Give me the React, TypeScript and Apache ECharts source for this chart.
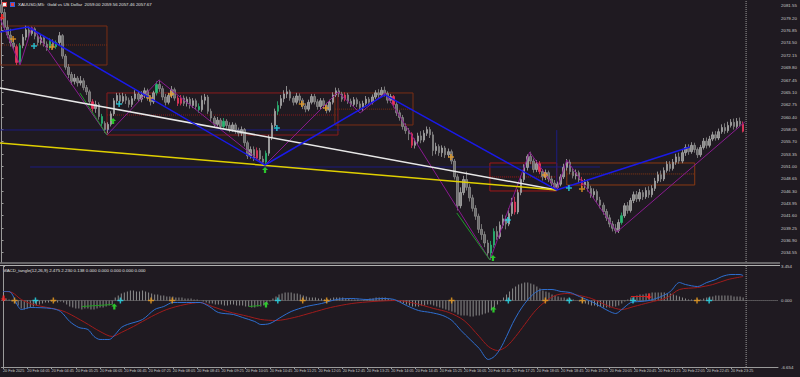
import React, { useEffect, useRef } from "react";
import * as echarts from "echarts";

const timeLabels = ["20 Feb 2025","20 Feb 04:05","20 Feb 04:45","20 Feb 05:25","20 Feb 06:05","20 Feb 06:45","20 Feb 07:25","20 Feb 08:05","20 Feb 08:45","20 Feb 09:25","20 Feb 10:05","20 Feb 10:45","20 Feb 11:25","20 Feb 12:05","20 Feb 12:45","20 Feb 13:25","20 Feb 14:05","20 Feb 14:45","20 Feb 15:25","20 Feb 16:05","20 Feb 16:45","20 Feb 17:25","20 Feb 18:05","20 Feb 18:45","20 Feb 19:25","20 Feb 20:05","20 Feb 20:45","20 Feb 21:25","20 Feb 22:05","20 Feb 22:45","20 Feb 23:25"];
const priceTicks = [2034.55,2036.90,2039.25,2041.60,2043.95,2046.30,2048.65,2051.00,2053.35,2055.70,2058.05,2060.40,2062.75,2065.10,2067.45,2069.80,2072.15,2074.50,2076.85,2079.20,2081.55];
const macdTicks = [3.454, 0, -6.654];

// [open, close, low, high]
const candles = [
[2081.8,2080.3,2079.8,2082.5],[2080.3,2077.5,2077.0,2081.0],[2077.5,2076.0,2075.4,2078.8],[2076.0,2074.5,2073.8,2077.2],[2074.5,2073.8,2073.2,2075.3],
[2073.8,2070.8,2070.3,2074.2],[2070.8,2074.0,2070.4,2074.5],[2074.0,2075.6,2073.5,2076.2],[2075.6,2077.0,2075.0,2077.8],[2077.0,2076.3,2075.5,2077.6],
[2076.3,2077.2,2075.9,2077.6],[2077.2,2075.8,2075.2,2077.5],[2075.8,2074.6,2074.0,2076.3],[2074.6,2075.5,2074.2,2076.0],[2075.5,2074.3,2073.8,2075.9],
[2074.3,2073.6,2073.0,2074.8],[2073.6,2074.8,2073.2,2075.4],[2074.8,2073.8,2073.3,2075.2],[2073.8,2074.6,2073.4,2075.0],[2074.6,2075.9,2074.0,2076.6],
[2075.9,2072.0,2071.5,2076.2],[2072.0,2069.9,2069.4,2072.4],[2069.9,2068.5,2067.8,2070.5],[2068.5,2067.2,2066.5,2069.0],[2067.2,2067.8,2066.6,2068.6],
[2067.8,2066.9,2066.2,2068.2],[2066.9,2067.3,2066.4,2068.2],[2067.3,2066.0,2065.5,2067.8],[2066.0,2065.2,2064.6,2066.5],[2065.2,2063.3,2062.8,2065.6],
[2063.3,2062.0,2061.4,2063.8],[2062.0,2062.8,2061.2,2063.5],[2062.8,2060.5,2059.9,2063.2],[2060.5,2059.2,2058.5,2061.0],[2059.2,2058.0,2057.4,2059.6],
[2058.0,2059.0,2057.3,2059.4],[2059.0,2061.0,2058.6,2061.5],[2061.0,2063.5,2060.6,2064.0],[2063.5,2064.5,2062.9,2065.0],[2064.5,2063.4,2062.8,2065.0],
[2063.4,2064.3,2063.0,2065.0],[2064.3,2063.6,2062.9,2064.8],[2063.6,2062.8,2062.2,2064.1],[2062.8,2063.9,2062.3,2064.4],[2063.9,2064.8,2063.5,2065.5],
[2064.8,2063.8,2063.3,2065.2],[2063.8,2064.6,2063.2,2065.3],[2064.6,2065.4,2064.0,2066.0],[2065.4,2064.0,2063.5,2065.8],[2064.0,2063.3,2062.6,2064.5],
[2063.3,2065.0,2062.9,2065.4],[2065.0,2066.6,2064.5,2067.2],[2066.6,2065.8,2065.2,2067.5],[2065.8,2064.2,2063.6,2066.3],[2064.2,2063.2,2062.6,2064.8],
[2063.2,2064.5,2062.8,2065.0],[2064.5,2065.6,2064.0,2066.3],[2065.6,2064.0,2063.5,2066.0],[2064.0,2063.0,2062.5,2064.5],[2063.0,2064.0,2062.6,2064.6],
[2064.0,2063.0,2062.5,2064.5],[2063.0,2063.8,2062.4,2064.3],[2063.8,2062.6,2062.0,2064.2],[2062.6,2063.5,2062.1,2064.0],[2063.5,2062.4,2061.8,2063.9],
[2062.4,2061.8,2061.2,2063.0],[2061.8,2063.6,2061.4,2064.5],[2063.6,2064.2,2062.8,2064.8],[2064.2,2061.5,2061.0,2064.6],[2061.5,2060.2,2059.6,2062.0],
[2060.2,2059.0,2058.5,2060.6],[2059.0,2059.8,2058.6,2060.4],[2059.8,2058.6,2058.0,2060.2],[2058.6,2059.6,2058.2,2060.2],[2059.6,2058.8,2058.2,2060.0],
[2058.8,2058.0,2057.5,2059.4],[2058.0,2058.9,2057.6,2059.4],[2058.9,2057.9,2057.2,2059.3],[2057.9,2057.3,2056.7,2058.4],[2057.3,2058.0,2056.8,2058.6],
[2058.0,2055.5,2054.8,2058.3],[2055.5,2053.0,2052.4,2055.9],[2053.0,2054.2,2052.5,2054.8],[2054.2,2052.6,2052.0,2054.8],[2052.6,2054.0,2052.1,2054.6],
[2054.0,2052.4,2051.8,2054.5],[2052.4,2051.8,2051.2,2053.0],[2051.8,2053.5,2051.3,2054.0],[2053.5,2056.5,2053.0,2057.0],[2056.5,2058.8,2056.0,2059.3],
[2058.8,2061.5,2058.5,2062.0],[2061.5,2062.6,2060.8,2063.4],[2062.6,2063.9,2062.0,2064.6],[2063.9,2064.8,2063.2,2065.5],[2064.8,2065.2,2064.0,2066.3],
[2065.2,2064.0,2063.5,2065.6],[2064.0,2063.2,2062.6,2064.4],[2063.2,2064.4,2062.8,2065.0],[2064.4,2063.6,2063.0,2064.9],[2063.6,2062.5,2061.9,2064.0],
[2062.5,2061.9,2061.3,2063.0],[2061.9,2063.2,2061.5,2063.7],[2063.2,2064.3,2062.8,2064.8],[2064.3,2063.3,2062.8,2064.8],[2063.3,2062.4,2061.8,2063.8],
[2062.4,2063.5,2061.9,2064.0],[2063.5,2062.6,2062.0,2064.0],[2062.6,2061.7,2061.1,2063.1],[2061.7,2063.2,2061.3,2063.7],[2063.2,2064.6,2062.8,2065.1],
[2064.6,2065.4,2064.2,2066.0],[2065.4,2064.8,2064.2,2065.9],[2064.8,2063.8,2063.3,2065.2],[2063.8,2064.6,2063.4,2065.1],[2064.6,2063.4,2062.9,2065.0],
[2063.4,2062.8,2062.3,2063.9],[2062.8,2063.7,2062.4,2064.2],[2063.7,2062.9,2062.3,2064.1],[2062.9,2062.2,2061.7,2063.4],[2062.2,2063.0,2061.5,2063.5],
[2063.0,2063.8,2062.6,2064.4],[2063.8,2063.2,2062.7,2064.2],[2063.2,2064.2,2062.8,2064.7],[2064.2,2065.0,2063.8,2065.5],[2065.0,2064.6,2064.0,2065.7],
[2064.6,2065.5,2064.2,2066.1],[2065.5,2064.9,2064.3,2066.2],[2064.9,2063.6,2063.0,2065.3],[2063.6,2064.3,2063.1,2064.8],[2064.3,2062.8,2062.2,2064.6],
[2062.8,2061.2,2060.6,2063.2],[2061.2,2060.3,2059.7,2061.7],[2060.3,2058.6,2058.0,2060.8],[2058.6,2057.8,2057.2,2059.2],[2057.8,2057.2,2056.0,2058.3],
[2057.2,2055.0,2054.5,2057.5],[2055.0,2055.8,2054.4,2056.3],[2055.8,2056.8,2055.3,2057.4],[2056.8,2056.0,2055.4,2057.7],[2056.0,2057.3,2055.6,2057.9],
[2057.3,2058.0,2056.8,2058.6],[2058.0,2057.0,2056.4,2058.5],[2057.0,2054.0,2053.0,2057.6],[2054.0,2054.8,2053.3,2055.5],[2054.8,2053.6,2053.0,2055.2],
[2053.6,2054.5,2052.8,2055.0],[2054.5,2053.2,2052.6,2054.9],[2053.2,2053.8,2052.7,2054.4],[2053.8,2052.0,2051.4,2054.2],[2052.0,2049.0,2048.5,2052.4],
[2049.0,2043.5,2042.6,2049.5],[2043.5,2046.0,2043.0,2047.0],[2046.0,2048.5,2045.5,2049.2],[2048.5,2047.0,2046.4,2050.0],[2047.0,2045.0,2044.3,2047.6],
[2045.0,2043.0,2042.4,2045.6],[2043.0,2041.5,2040.8,2043.6],[2041.5,2039.0,2038.3,2042.0],[2039.0,2038.0,2037.0,2040.0],[2038.0,2036.4,2035.6,2038.6],
[2036.4,2034.5,2033.8,2037.0],[2034.5,2036.0,2033.2,2036.8],[2036.0,2038.6,2035.5,2039.2],[2038.6,2037.6,2037.0,2039.6],[2037.6,2039.8,2037.2,2040.5],
[2039.8,2041.0,2039.2,2041.8],[2041.0,2040.0,2039.0,2041.6],[2040.0,2042.0,2039.6,2043.0],[2042.0,2044.2,2041.5,2045.0],[2044.2,2042.3,2041.8,2045.2],
[2042.3,2046.0,2041.9,2046.6],[2046.0,2048.5,2045.5,2049.2],[2048.5,2050.8,2048.0,2051.4],[2050.8,2052.9,2050.2,2053.3],[2052.9,2052.0,2051.4,2053.8],
[2052.0,2050.4,2049.8,2052.5],[2050.4,2051.5,2049.9,2052.2],[2051.5,2050.0,2049.5,2052.0],[2050.0,2049.0,2048.3,2050.5],[2049.0,2049.8,2048.4,2050.4],
[2049.8,2048.6,2048.0,2050.2],[2048.6,2047.8,2047.2,2049.2],[2047.8,2047.0,2046.5,2048.4],[2047.0,2047.6,2046.5,2048.1],[2047.6,2049.0,2047.2,2049.5],
[2049.0,2050.8,2048.6,2051.5],[2050.8,2051.8,2050.2,2052.4],[2051.8,2050.0,2049.5,2052.3],[2050.0,2049.2,2048.7,2050.6],[2049.2,2049.8,2048.5,2050.4],
[2049.8,2048.4,2047.8,2050.2],[2048.4,2047.5,2046.9,2049.0],[2047.5,2048.0,2046.8,2048.6],[2048.0,2046.8,2046.2,2048.5],[2046.8,2045.6,2045.0,2047.3],
[2045.6,2046.2,2045.0,2046.8],[2046.2,2044.6,2044.0,2046.6],[2044.6,2043.6,2043.0,2045.2],[2043.6,2042.4,2041.8,2044.1],[2042.4,2041.2,2040.6,2042.9],
[2041.2,2040.0,2039.4,2041.8],[2040.0,2039.2,2038.6,2040.6],[2039.2,2038.8,2038.2,2040.0],[2038.8,2040.3,2038.3,2040.9],[2040.3,2041.6,2039.9,2042.2],
[2041.6,2043.5,2041.2,2044.0],[2043.5,2042.6,2042.0,2044.2],[2042.6,2044.5,2042.2,2045.0],[2044.5,2045.6,2044.0,2046.2],[2045.6,2044.8,2044.2,2046.3],
[2044.8,2046.0,2044.3,2046.7],[2046.0,2045.2,2044.6,2046.5],[2045.2,2046.4,2044.8,2047.0],[2046.4,2045.6,2045.0,2047.2],[2045.6,2046.8,2045.1,2047.4],
[2046.8,2048.2,2046.3,2048.8],[2048.2,2049.4,2047.8,2050.0],[2049.4,2048.6,2048.0,2050.2],[2048.6,2050.2,2048.2,2050.8],[2050.2,2051.4,2049.8,2052.0],
[2051.4,2050.6,2050.0,2052.0],[2050.6,2051.8,2050.2,2052.4],[2051.8,2052.8,2051.3,2053.4],[2052.8,2052.0,2051.5,2053.6],[2052.0,2053.6,2051.6,2054.2],
[2053.6,2054.6,2053.0,2055.2],[2054.6,2053.8,2053.2,2055.2],[2053.8,2055.0,2053.4,2055.6],[2055.0,2054.2,2053.6,2055.5],[2054.2,2053.2,2052.6,2054.6],
[2053.2,2054.6,2052.8,2055.1],[2054.6,2055.8,2054.2,2056.4],[2055.8,2055.0,2054.4,2056.5],[2055.0,2056.2,2054.6,2056.8],[2056.2,2057.0,2055.8,2057.6],
[2057.0,2056.4,2055.9,2057.7],[2056.4,2057.6,2056.0,2058.2],[2057.6,2058.4,2057.2,2059.0],[2058.4,2057.8,2057.2,2059.2],[2057.8,2058.8,2057.4,2059.5],
[2058.8,2059.4,2058.4,2060.0],[2059.4,2058.6,2058.0,2060.1],[2058.6,2059.6,2058.2,2060.2],[2059.6,2059.0,2058.6,2060.3],[2059.00,2057.67,2057.46,2059.56]
];
const redBars = [5,30,58,59,84,113,129,135,169,177,191,244];
const greenBars = [6,16,18,33,51,65,73,87,91,161,162,204];

const histogram = [
0.3,0.2,0.1,-0.1,-0.3,
-0.5,-0.8,-0.9,-0.8,-0.7,-0.6,-0.5,-0.4,
-0.3,-0.2,-0.2,-0.1,-0.1,-0.2,-0.1,-0.2,
-0.4,-0.6,-0.7,-0.8,-0.8,-0.9,-0.8,-0.8,-0.9,-0.9,-0.8,-0.7,-0.7,-0.6,-0.5,-0.4,
0.3,0.5,0.7,0.8,0.9,1.0,1.0,0.9,0.9,1.0,0.9,0.8,0.7,0.6,0.6,0.5,
0.5,0.4,0.4,0.4,0.3,0.3,0.3,0.2,0.2,0.2,0.1,0.1,0.0,
-0.1,-0.2,-0.3,-0.3,-0.4,-0.4,-0.4,-0.5,-0.5,-0.4,-0.4,-0.5,-0.5,-0.5,-0.6,-0.6,-0.7,-0.7,-0.6,-0.6,
-0.5,-0.3,-0.1,0.2,0.4,0.6,0.7,0.8,0.8,0.8,
0.7,0.7,0.6,0.5,0.4,0.3,0.3,0.3,0.2,0.2,0.1,0.1,0.2,0.3,0.3,
0.3,0.3,0.2,0.2,0.1,0.1,0.1,0.0,0.1,0.1,0.2,0.2,0.3,0.3,0.3,0.3,0.2,0.1,0.0,-0.1,
-0.2,-0.3,-0.4,-0.5,-0.6,-0.6,-0.6,-0.5,-0.5,-0.4,-0.4,-0.5,-0.6,-0.7,-0.8,
-0.9,-1.0,-1.1,-1.2,-1.4,-1.5,-1.5,-1.5,-1.6,-1.6,-1.5,-1.5,-1.4,-1.3,-1.2,-1.0,
-0.7,-0.4,-0.1,0.3,0.6,0.9,1.2,1.4,1.6,1.7,1.8,1.8,1.7,1.6,1.4,1.2,1.0,0.9,0.8,
0.6,0.5,0.4,0.3,0.3,0.2,0.2,0.1,0.0,-0.1,
-0.2,-0.3,-0.4,-0.5,-0.5,-0.6,-0.6,-0.7,-0.7,-0.7,-0.6,-0.6,-0.5,-0.3,-0.1,
0.1,0.3,0.4,0.5,0.6,0.6,0.7,0.7,0.8,0.8,0.8,0.8,0.8,0.7,0.7,0.6,0.5,0.4,0.3,
0.2,0.1,0.1,0.0,0.1,0.1,0.2,0.3,
0.4,0.4,0.5,0.5,0.5,0.5,0.5,0.5,0.4,0.4,0.4,0.3
];

const macdMain = [[0,0.9],[2,0.9],[5,-0.6],[6,-0.9],[9,-0.7],[16,-0.8],[19,-1.1],[22,-2.1],[25,-2.7],[28,-2.9],[30,-3.6],[32,-3.9],[35,-3.9],[37,-3.4],[39,-2.7],[41,-2.4],[46,-1.9],[50,-0.9],[53,-0.6],[56,-0.2],[59,-0.2],[65,-0.2],[68,-0.6],[71,-1.2],[76,-1.4],[79,-1.7],[83,-2.1],[85,-2.4],[88,-2.3],[92,-1.6],[95,-1.1],[100,-0.6],[105,-0.3],[110,0.1],[115,0.2],[120,0.1],[125,0.2],[129,0.1],[133,-0.5],[137,-1.0],[141,-1.2],[145,-1.5],[148,-2.0],[151,-3.0],[154,-3.9],[157,-4.8],[160,-5.9],[162,-5.6],[164,-4.8],[166,-3.6],[168,-2.3],[170,-1.2],[172,-0.3],[174,0.4],[176,0.9],[178,1.1],[181,1.1],[184,0.9],[187,0.8],[190,0.4],[194,-0.1],[197,-0.6],[200,-1.1],[202,-1.3],[204,-0.9],[207,-0.2],[210,-0.1],[213,0.0],[217,0.4],[220,0.9],[223,1.8],[225,1.6],[229,1.4],[232,1.8],[235,2.1],[237,2.4],[240,2.6],[243,2.6],[244,2.5]];
const macdSignal = [[0,0.9],[3,0.8],[6,0.1],[10,-0.4],[18,-0.9],[21,-1.2],[27,-2.2],[32,-3.1],[36,-3.6],[39,-3.2],[43,-2.6],[49,-1.6],[54,-0.9],[60,-0.4],[65,-0.2],[69,-0.6],[74,-1.1],[81,-1.6],[85,-1.9],[90,-2.0],[96,-1.7],[102,-1.2],[108,-0.7],[115,-0.3],[122,-0.1],[130,0.0],[136,-0.3],[142,-0.8],[147,-1.2],[152,-2.0],[157,-3.6],[160,-4.6],[163,-5.0],[166,-4.6],[169,-3.6],[172,-2.4],[175,-1.2],[178,-0.3],[182,0.5],[186,0.7],[190,0.5],[194,0.2],[200,-0.6],[204,-0.9],[208,-0.6],[213,-0.2],[219,0.3],[223,1.1],[229,1.3],[234,1.6],[239,2.1],[244,2.4]];

// overlay objects in (bar index, price)
const blueTrend = [[-0.5,2076.6],[8.7,2077.55],[86.7,2051.26],[126.2,2064.6],[182.7,2046.5],[226.5,2054.7]];
const whiteTrend = [[-0.5,2065.93],[182.7,2046.5]];
const yellowTrend = [[-0.5,2055.45],[182.7,2046.5]];
const zigzag = [[-0.5,2079.26],[6.1,2070.3],[10,2077.55],[34.7,2056.97],[51.8,2067.45],[86.7,2051.26],[110.7,2065.17],[118,2061.17],[126.2,2064.98],[160.7,2033.17],[173.8,2053.74],[182.7,2046.5],[186,2052.2],[202.5,2038.5],[244.6,2059.45]];
const greenTrend1 = [[25.8,2064.98],[34.7,2056.97]];
const greenTrend2 = [[149.8,2042.12],[160.7,2033.17]];
const blueLevel1 = [[-0.5,2057.93],[111.4,2057.93]];
const blueLevel2 = [[9.4,2050.88],[196.9,2050.88]];
const blueVertical = [[182.7,2057.9],[182.7,2046.5]];
// rectangles: [x0, x1, top, bottom, mid]
const rectR1 = [-0.5,34.7,2077.74,2070.31,2074.12];
const rectR2 = [34.7,110.7,2064.98,2056.97,2060.78];
const rectR2b = [109.7,135.4,2064.98,2058.88,2061.9];
const rectR3 = [160.7,182.7,2051.64,2046.31,2048.98];
const rectR4 = [186,228.1,2051.64,2047.45,2049.55];

const orangeMarks = [[3.8,2075.26],[16.6,2073.74],[48.8,2064.02],[55.8,2064.79],[98.8,2062.88],[106.7,2062.12],[147.9,2052.79],[178.8,2049.36],[191,2046.69]];
const cyanMarks = [[10.7,2073.93],[38.7,2062.88],[90.6,2058.31],[166.6,2040.79],[186.7,2046.88]];
const greenMarks = [[36.7,2059.64],[86.7,2050.31],[161.7,2033.55]];
const redMarks = [[0.2,2079.45]];

const orangeMacd = [3.8,16.6,48.8,55.8,98.8,106.7,147.9,178.8,191,228.8];
const cyanMacd = [10.7,38.7,90.6,166.6,186.7,207.7,232.8];
const greenMacd = [[36.7,-0.6],[86.7,-0.4],[161.7,-0.9]];
const redMacd = [[0.2,0.2],[213,0.4]];
const greenSegA = [[26,-0.6],[36,-0.4]];
const greenSegB = [[81,-0.6],[85,-0.5]];
const redSeg = [[207,0.4],[213,0.4]];

const zigLabels = [
  { x: 12.3, p: 2078.3, t: "107.91" },
  { x: 9.4, p: 2069.55, t: "111.50" },
  { x: 29.4, p: 2056.2, t: "96.56" },
  { x: 53.8, p: 2067.64, t: "55.54" },
  { x: 138, p: 2053.74, t: "96.64" },
  { x: 176.2, p: 2054.69, t: "161.71" },
  { x: 188.7, p: 2052.4, t: "161.76" },
  { x: 203.5, p: 2037.4, t: "96.48" },
  { x: 245.2, p: 2059.65, t: "77.44" },
];
const whiteLabels = [{ x: 184.7, p: 2045.7, t: "48.87" }];

const BG = "#1f1a21";
const RED = "#e8365d";
const GREEN = "#2bb673";
const ORANGE = "#f0a020";
const CYAN = "#28e0f0";
const N_CAT = 256;
const MAIN_MIN = 2032.78, MAIN_MAX = 2082.69;
const MACD_MIN = -6.654, MACD_MAX = 3.454;
const FONT = "Liberation Sans";

const PLUS = "path://M3,0L5,0L5,3L8,3L8,5L5,5L5,8L3,8L3,5L0,5L0,3L3,3Z";
const UP = "path://M4,0L8,4L5.5,4L5.5,8L2.5,8L2.5,4L0,4Z";
const DOWN = "path://M2.5,0L5.5,0L5.5,4L8,4L4,8L0,4L2.5,4Z";

function line(data: number[][], color: string, width: number, type: string = "solid", grid = 0, smooth: any = false, z = 4) {
  return {
    type: "line", xAxisIndex: grid === 0 ? 1 : 2, yAxisIndex: grid, data, symbol: "none",
    smooth, lineStyle: { color, width, type }, silent: true, z, animation: false,
  };
}
function rect(r: number[], color: string) {
  const [x0, x1, t, b, m] = r;
  return [
    line([[x0, t], [x1, t], [x1, b], [x0, b], [x0, t]], color, 1, "solid", 0, false, 1),
    line([[x0, m], [x1, m]], color, 1, "dotted", 0, false, 1),
  ];
}
function marks(data: number[][], symbol: string, color: string, grid = 0) {
  return {
    type: "scatter", xAxisIndex: grid === 0 ? 1 : 2, yAxisIndex: grid, data, symbol, symbolSize: 6,
    itemStyle: { color }, silent: true, z: 6, animation: false,
  };
}
function texts(items: { x: number; p: number; t: string }[], color: string) {
  return {
    type: "scatter", xAxisIndex: 1, yAxisIndex: 0, symbolSize: 1, itemStyle: { opacity: 0 },
    data: items.map((d) => ({ value: [d.x, d.p], name: d.t })),
    label: { show: true, position: "inside", formatter: "{b}", color, fontSize: 4.4, fontFamily: FONT },
    silent: true, z: 7, animation: false,
  };
}

export default function App() {
  const ref = useRef<HTMLDivElement>(null);
  useEffect(() => {
    const chart = echarts.init(ref.current!, null, { renderer: "svg" });
    const candleData = candles.map((c, i) => {
      let col: string | null = null;
      if (redBars.includes(i)) col = RED;
      if (greenBars.includes(i)) col = GREEN;
      return col
        ? { value: c, itemStyle: { color: col, color0: col, borderColor: col, borderColor0: col } }
        : { value: c };
    });
    const axisText = { color: "#c8c8c8", fontSize: 4.4, fontFamily: FONT };
    const tickVals = timeLabels.map((_, i) => i * 8);
    const option: any = {
      animation: false,
      backgroundColor: BG,
      grid: [
        { left: 0, top: 0, width: 778, height: 262 },
        { left: 0, top: 266, width: 778, height: 101 },
      ],
      xAxis: [
        { type: "category", gridIndex: 0, data: Array.from({ length: N_CAT }, (_, i) => String(i)), show: false },
        { type: "value", gridIndex: 0, min: -0.5, max: N_CAT - 0.5, show: false },
        {
          type: "value", gridIndex: 1, min: -0.5, max: N_CAT - 0.5,
          axisLine: { show: true, onZero: false, lineStyle: { color: "#9a9a9a", width: 1 } },
          axisTick: { show: true, length: 2, lineStyle: { color: "#9a9a9a" }, customValues: tickVals },
          axisLabel: {
            color: "#c8c8c8", fontSize: 3.8, fontFamily: FONT, margin: 2, align: "left",
            showMinLabel: true, showMaxLabel: true, hideOverlap: false,
            customValues: tickVals,
            formatter: (v: number) => timeLabels[Math.round(v / 8)] ?? "",
          },
          splitLine: { show: false },
        },
      ],
      yAxis: [
        {
          type: "value", gridIndex: 0, position: "right", min: MAIN_MIN, max: MAIN_MAX,
          axisLine: { show: true, lineStyle: { color: "#9a9a9a" } },
          axisTick: { show: true, length: 2, lineStyle: { color: "#9a9a9a" }, customValues: priceTicks },
          axisLabel: { ...axisText, margin: 3, customValues: priceTicks, formatter: (v: number) => v.toFixed(2) },
          splitLine: { show: false },
        },
        {
          type: "value", gridIndex: 1, position: "right", min: MACD_MIN, max: MACD_MAX,
          axisLine: { show: true, lineStyle: { color: "#9a9a9a" } },
          axisTick: { show: true, length: 2, lineStyle: { color: "#9a9a9a" }, customValues: macdTicks },
          axisLabel: { ...axisText, margin: 3, customValues: macdTicks, formatter: (v: number) => v.toFixed(3) },
          splitLine: { show: false },
        },
      ],
      graphic: [
        { type: "rect", shape: { x: 0, y: 262.5, width: 780, height: 1 }, style: { fill: "#b0b0b0" }, silent: true },
        { type: "rect", shape: { x: 0, y: 265, width: 780, height: 1 }, style: { fill: "#b0b0b0" }, silent: true },
        { type: "rect", shape: { x: 2, y: 2, width: 5, height: 5 }, style: { fill: "#e04040" }, silent: true },
        { type: "rect", shape: { x: 3, y: 3, width: 3, height: 3 }, style: { fill: "#f0f0f0" }, silent: true },
        { type: "rect", shape: { x: 10, y: 2, width: 5, height: 5 }, style: { fill: "#3060e0" }, silent: true },
        { type: "rect", shape: { x: 11, y: 3, width: 3, height: 3 }, style: { fill: "#e04040" }, silent: true },
        {
          type: "text", x: 18, y: 2, silent: true,
          style: { text: "XAUUSD,M5:  Gold vs US Dollar  2059.00 2059.56 2057.46 2057.67", fill: "#e0e0e0", fontSize: 4.4, fontFamily: FONT },
        },
        {
          type: "text", x: 3, y: 268, silent: true,
          style: { text: "MACD_tangle(12,26,9) 2.475 2.230 0.138 0.000 0.000 0.000 0.000 0.000", fill: "#e0e0e0", fontSize: 4.4, fontFamily: FONT },
        },
      ],
      series: [
        ...rect(rectR1, "#7a2e14"),
        ...rect(rectR2, "#8a1c1c"),
        ...rect(rectR2b, "#7a2e14"),
        ...rect(rectR3, "#a01818"),
        ...rect(rectR4, "#8a3a12"),
        line(blueLevel1, "#1c1c80", 1, "solid", 0, false, 1),
        line(blueLevel2, "#1c1c80", 1, "solid", 0, false, 1),
        line(blueVertical, "#1c1c80", 1, "solid", 0, false, 1),
        {
          type: "candlestick", xAxisIndex: 0, yAxisIndex: 0, data: candleData, barWidth: 2,
          itemStyle: { color: "#8a8a8a", color0: "#6c6c6c", borderColor: "#ababab", borderColor0: "#8c8c8c", borderWidth: 0.8 },
          silent: true, z: 2, animation: false,
        },
        line(zigzag, "#8a1a90", 1),
        line(greenTrend1, "#1f9a2a", 1),
        line(greenTrend2, "#1f9a2a", 1),
        line(whiteTrend, "#e8e8e8", 1.5),
        line(yellowTrend, "#e0d000", 1.5),
        line(blueTrend, "#1a1ae8", 1.5),
        line([[245, MAIN_MIN], [245, MAIN_MAX]], "#9a9a9a", 1, "dotted"),
        marks(orangeMarks, PLUS, ORANGE),
        marks(cyanMarks, PLUS, CYAN),
        marks(greenMarks, UP, "#30f030"),
        marks(redMarks, DOWN, "#ff2020"),
        texts(zigLabels, "#8a3ab0"),
        texts(whiteLabels, "#e8e8e8"),
        // MACD pane
        {
          type: "bar", xAxisIndex: 2, yAxisIndex: 1, data: histogram.map((v, i) => [i, v]), barWidth: 1,
          itemStyle: { color: "#8c8c8c" }, silent: true, z: 2, animation: false,
        },
        line([[-0.5, 0], [N_CAT - 0.5, 0]], "#8a8a8a", 1, "dotted", 1, false, 3),
        line([[245, MACD_MIN], [245, MACD_MAX]], "#9a9a9a", 1, "dotted", 1, false, 3),
        line(macdSignal, "#a01c1c", 1, "solid", 1, 0.3),
        line(macdMain, "#2f6fd0", 1, "solid", 1, 0.3),
        line(greenSegA, "#20a020", 1, "solid", 1),
        line(greenSegB, "#20a020", 1, "solid", 1),
        line(redSeg, "#d02020", 1, "solid", 1),
        marks(orangeMacd.map((x) => [x, 0]), PLUS, ORANGE, 1),
        marks(cyanMacd.map((x) => [x, 0]), PLUS, CYAN, 1),
        marks(greenMacd, UP, "#30f030", 1),
        marks(redMacd, DOWN, "#ff2020", 1),
      ],
    };
    chart.setOption(option);
    return () => chart.dispose();
  }, []);
  return (
    <div
      ref={ref}
      style={{ position: "fixed", left: 0, top: 0, width: 800, height: 377, background: BG }}
    />
  );
}
